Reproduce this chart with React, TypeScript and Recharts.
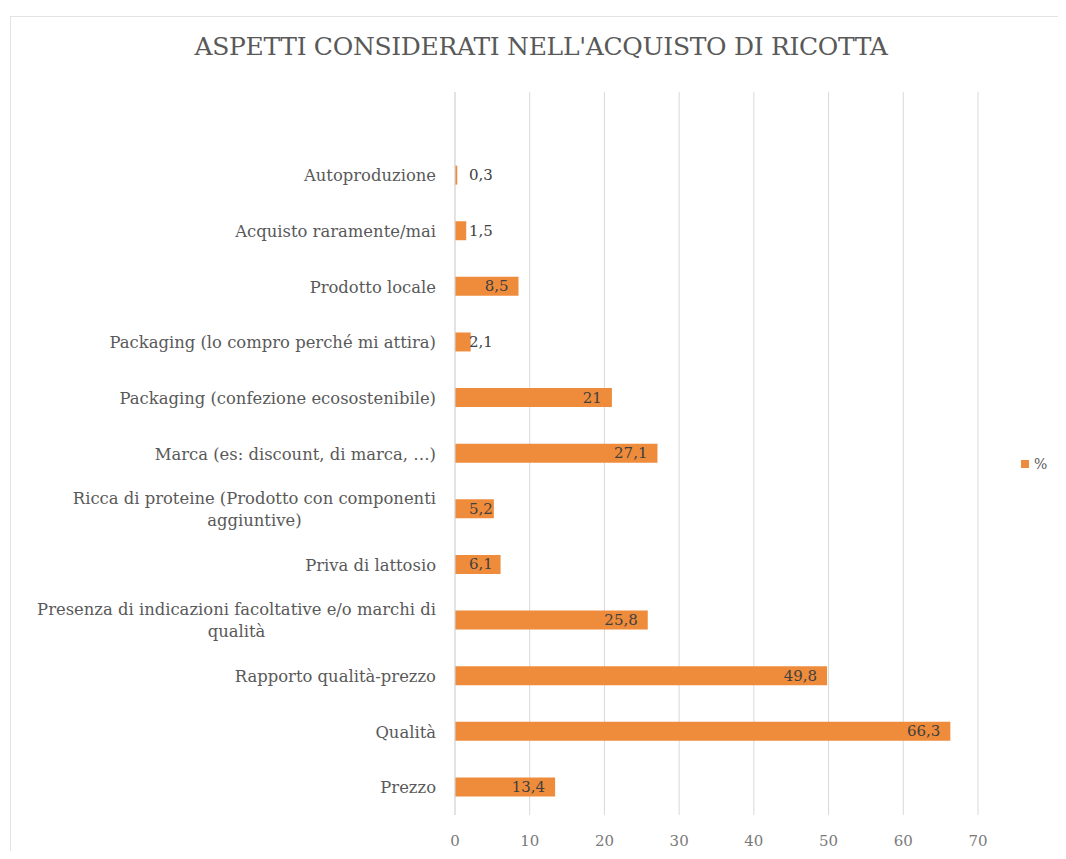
import { BarChart, Bar, XAxis, YAxis, CartesianGrid, LabelList } from "recharts";

const categories = [
  "",
  "Autoproduzione",
  "Acquisto raramente/mai",
  "Prodotto locale",
  "Packaging (lo compro perché mi attira)",
  "Packaging (confezione ecosostenibile)",
  "Marca (es: discount, di marca, …)",
  "Ricca di proteine (Prodotto con componenti aggiuntive)",
  "Priva di lattosio",
  "Presenza di indicazioni facoltative e/o marchi di qualità",
  "Rapporto qualità-prezzo",
  "Qualità",
  "Prezzo",
];
const percent = [null, 0.3, 1.5, 8.5, 2.1, 21, 27.1, 5.2, 6.1, 25.8, 49.8, 66.3, 13.4];
const xTicks = [0, 10, 20, 30, 40, 50, 60, 70];

const data = categories.map((name, i) => ({ name, pct: percent[i] }));

const FONT = '"DejaVu Serif", serif';
const LABEL_SIZE = 16.4;
const TICK_RIGHT = 436;
const BAR_COLOR = "#EF8C3C";

let ctx: CanvasRenderingContext2D | null = null;
const measure = (s: string, size: number) => {
  if (!ctx) ctx = document.createElement("canvas").getContext("2d");
  if (!ctx) return s.length * size * 0.55;
  ctx.font = `${size}px ${FONT}`;
  return ctx.measureText(s).width;
};

const splitLabel = (s: string, max = 49) => {
  if (s.length <= max) return [s];
  const cut = s.lastIndexOf(" ", max);
  return [s.slice(0, cut), s.slice(cut + 1)];
};

const fmt = (v: number) => String(v).replace(".", ",");

const CatTick = (props: any) => {
  const { y, payload } = props;
  const lines = splitLabel(payload.value);
  if (lines.length === 1) {
    return (
      <text x={TICK_RIGHT} y={y} dy={6} textAnchor="end" fill="#595959" fontSize={LABEL_SIZE} fontFamily={FONT}>
        {lines[0]}
      </text>
    );
  }
  const w = Math.max(...lines.map((l) => measure(l, LABEL_SIZE)));
  const cx = TICK_RIGHT - w / 2;
  return (
    <text x={cx} y={y} textAnchor="middle" fill="#595959" fontSize={LABEL_SIZE} fontFamily={FONT}>
      <tspan x={cx} dy={-5}>{lines[0]}</tspan>
      <tspan x={cx} dy={22}>{lines[1]}</tspan>
    </text>
  );
};

const ValueLabel = (props: any) => {
  const { x, y, width, height, value } = props;
  if (value == null) return null;
  const s = fmt(value);
  const tw = measure(s, 15);
  const tx = Math.max(x + 14, x + width - 10 - tw);
  return (
    <text x={tx} y={y + height / 2} dy={5} textAnchor="start" fill="#404040" fontSize={15} fontFamily={FONT}>
      {s}
    </text>
  );
};

export default function App() {
  return (
    <div
      style={{
        position: "relative",
        width: 1056,
        height: 835,
        marginLeft: 2,
        marginTop: 8,
        borderTop: "1px solid #e3e3e3",
        borderLeft: "1px solid #e3e3e3",
        boxSizing: "border-box",
        overflow: "hidden",
        background: "#fff",
      }}
    >
      <div style={{ position: "absolute", left: -11, top: -17, width: 1066, height: 859 }}>
        <div
          style={{
            position: "absolute",
            left: 0,
            top: 32,
            width: 1082,
            textAlign: "center",
            fontFamily: FONT,
            fontSize: 25,
            letterSpacing: -0.3,
            color: "#595959",
          }}
        >
          ASPETTI CONSIDERATI NELL'ACQUISTO DI RICOTTA
        </div>
        <div
          style={{
            position: "absolute",
            left: 1021,
            top: 456,
            display: "flex",
            alignItems: "center",
            fontFamily: FONT,
            fontSize: 14,
            color: "#595959",
          }}
        >
          <span style={{ width: 8, height: 8, background: BAR_COLOR, display: "inline-block", marginRight: 5 }} />
          %
        </div>
        <BarChart
          width={1066}
          height={859}
          data={data}
          layout="vertical"
          margin={{ top: 92, right: 88, bottom: 14, left: 0 }}
          barCategoryGap={0}
        >
          <CartesianGrid horizontal={false} stroke="#d9d9d9" />
          <XAxis
            type="number"
            domain={[0, 70]}
            ticks={xTicks}
            axisLine={false}
            tickLine={false}
            tick={{ fill: "#7a7a7a", fontSize: 15, fontFamily: FONT }}
            tickMargin={14}
            height={30}
          />
          <YAxis
            type="category"
            dataKey="name"
            width={455}
            axisLine={{ stroke: "#d9d9d9" }}
            tickLine={false}
            tick={<CatTick />}
            interval={0}
          />
          <Bar dataKey="pct" name="%" fill={BAR_COLOR} barSize={19} isAnimationActive={false}>
            <LabelList dataKey="pct" content={<ValueLabel />} />
          </Bar>
        </BarChart>
      </div>
    </div>
  );
}
